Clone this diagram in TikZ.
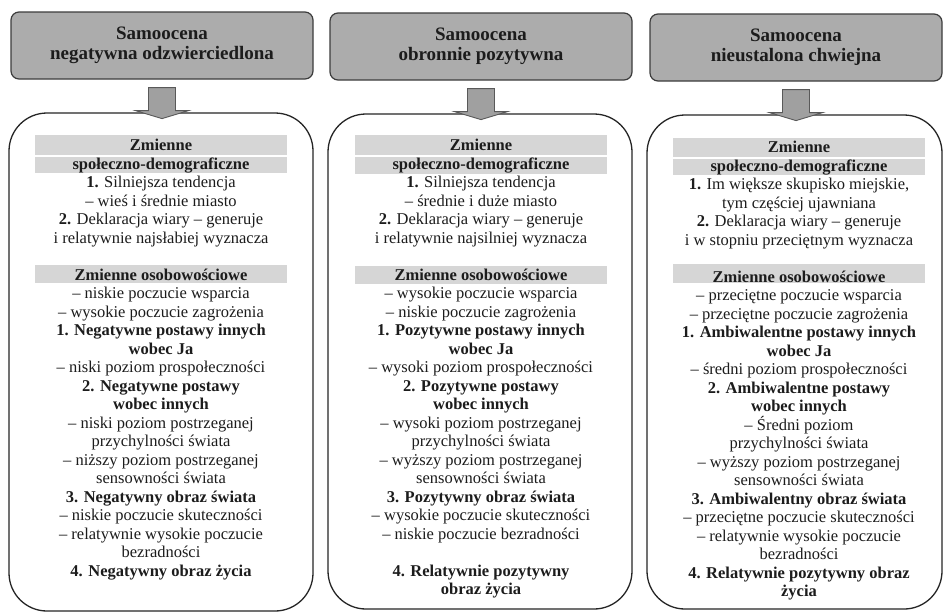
\documentclass[tikz,border=0pt]{standalone}
\usepackage{fontspec}
\setmainfont{Liberation Serif}
\usetikzlibrary{calc}
\definecolor{hdrfill}{RGB}{172,172,172}
\definecolor{hdrline}{RGB}{60,60,60}
\definecolor{arrfill}{RGB}{160,160,160}
\definecolor{bandfill}{RGB}{214,214,214}
\definecolor{txt}{RGB}{28,28,28}
\tikzset{
  hdr/.style={draw=hdrline, line width=1.2pt, fill=hdrfill, rounded corners=8pt,
    inner sep=0pt, align=center, minimum height=67pt, text=txt,
    font=\fontsize{19}{20}\selectfont\bfseries},
  bigbox/.style={draw=black!85, line width=1.3pt, rounded corners=38pt, inner sep=0pt},
  body/.style={inner sep=0pt, align=center, anchor=north, text=txt,
    font=\fontsize{16.5}{18.5}\selectfont},
  band/.style={fill=bandfill},
  blockarrow/.style={draw=black!65, line width=0.9pt, fill=arrfill, line join=miter}
}
\newcommand{\arrowfrom}[1]{%
  \draw[blockarrow] ($(#1.south)+(-13.5,8)$) -- ($(#1.south)+(13.5,8)$) --
    ($(#1.south)+(13.5,31)$) -- ($(#1.south)+(26.5,31)$) -- ($(#1.south)+(0,39)$) --
    ($(#1.south)+(-26.5,31)$) -- ($(#1.south)+(-13.5,31)$) -- cycle;}
\begin{document}
\begin{tikzpicture}[x=1pt,y=-1pt]
\useasboundingbox (0,0) rectangle (944,614);
\fill[white] (0,0) rectangle (944,614);

% headers
\node[hdr, minimum width=302pt] (h1) at (162,45.5) {Samoocena\\negatywna odzwierciedlona};
\node[hdr, minimum width=302pt] (h2) at (481,46.5) {Samoocena\\obronnie pozytywna};
\node[hdr, minimum width=292pt] (h3) at (796,47.5) {Samoocena\\nieustalona chwiejna};

% big boxes
\node[bigbox, minimum width=304pt, minimum height=498pt] (b1) at (161,362) {};
\node[bigbox, minimum width=304pt, minimum height=495pt] (b2) at (480,361.5) {};
\node[bigbox, minimum width=295pt, minimum height=494pt] (b3) at (794.5,362) {};

% arrows
\arrowfrom{h1}
\arrowfrom{h2}
\arrowfrom{h3}

% bands
\fill[band] (35,135) rectangle (287,155);
\fill[band] (35,157) rectangle (287,173);
\fill[band] (35,265) rectangle (287,283);
\fill[band] (355,135) rectangle (607,155);
\fill[band] (355,157) rectangle (607,174);
\fill[band] (355,266) rectangle (607,284);
\fill[band] (673,138) rectangle (925,157);
\fill[band] (673,159) rectangle (925,175);
\fill[band] (673,264) rectangle (925,283);

% texts
\node[body] (t1) at (161,139) {%
\textbf{Zmienne}\\
\textbf{społeczno-demograficzne}\\
\textbf{1.} Silniejsza tendencja\\
– wieś i średnie miasto\\
\textbf{2.} Deklaracja wiary – generuje\\
i relatywnie najsłabiej wyznacza\\[18.5pt]
\textbf{Zmienne osobowościowe}\\
– niskie poczucie wsparcia\\
– wysokie poczucie zagrożenia\\
\textbf{1. Negatywne postawy innych}\\
\textbf{wobec Ja}\\
– niski poziom prospołeczności\\
\textbf{2. Negatywne postawy}\\
\textbf{wobec innych}\\
– niski poziom postrzeganej\\
przychylności świata\\
– niższy poziom postrzeganej\\
sensowności świata\\
\textbf{3. Negatywny obraz świata}\\
– niskie poczucie skuteczności\\
– relatywnie wysokie poczucie\\
bezradności\\
\textbf{4. Negatywny obraz życia}};

\node[body] (t2) at (481,139) {%
\textbf{Zmienne}\\
\textbf{społeczno-demograficzne}\\
\textbf{1.} Silniejsza tendencja\\
– średnie i duże miasto\\
\textbf{2.} Deklaracja wiary – generuje\\
i relatywnie najsilniej wyznacza\\[18.5pt]
\textbf{Zmienne osobowościowe}\\
– wysokie poczucie wsparcia\\
– niskie poczucie zagrożenia\\
\textbf{1. Pozytywne postawy innych}\\
\textbf{wobec Ja}\\
– wysoki poziom prospołeczności\\
\textbf{2. Pozytywne postawy}\\
\textbf{wobec innych}\\
– wysoki poziom postrzeganej\\
przychylności świata\\
– wyższy poziom postrzeganej\\
sensowności świata\\
\textbf{3. Pozytywny obraz świata}\\
– wysokie poczucie skuteczności\\
– niskie poczucie bezradności\\[18.5pt]
\textbf{4. Relatywnie pozytywny}\\
\textbf{obraz życia}};

\node[body] (t3) at (799,141) {%
\textbf{Zmienne}\\
\textbf{społeczno-demograficzne}\\
\textbf{1.} Im większe skupisko miejskie,\\
tym częściej ujawniana\\
\textbf{2.} Deklaracja wiary – generuje\\
i w stopniu przeciętnym wyznacza\\[18.5pt]
\textbf{Zmienne osobowościowe}\\
– przeciętne poczucie wsparcia\\
– przeciętne poczucie zagrożenia\\
\textbf{1. Ambiwalentne postawy innych}\\
\textbf{wobec Ja}\\
– średni poziom prospołeczności\\
\textbf{2. Ambiwalentne postawy}\\
\textbf{wobec innych}\\
– Średni poziom\\
przychylności świata\\
– wyższy poziom postrzeganej\\
sensowności świata\\
\textbf{3. Ambiwalentny obraz świata}\\
– przeciętne poczucie skuteczności\\
– relatywnie wysokie poczucie\\
bezradności\\
\textbf{4. Relatywnie pozytywny obraz}\\
\textbf{życia}};
\end{tikzpicture}
\end{document}
